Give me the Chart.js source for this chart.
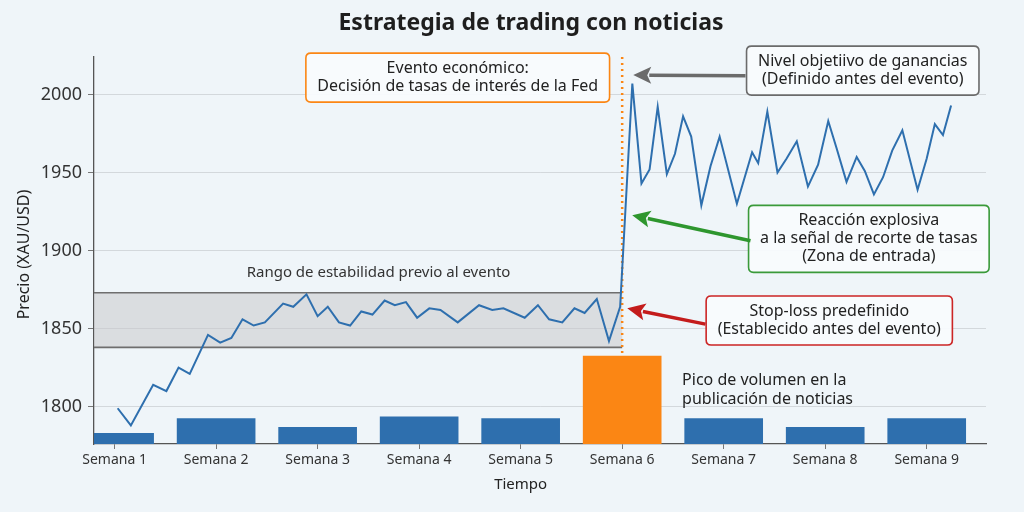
<!DOCTYPE html>
<html>
<head>
<meta charset="utf-8">
<script src="https://cdn.jsdelivr.net/npm/chart.js@4.4.1/dist/chart.umd.min.js"></script>
<style>
  html, body { margin: 0; padding: 0; background: #eff5f9; }
  #wrap { width: 1024px; height: 512px; }
</style>
</head>
<body>
<div id="wrap"><canvas id="c" width="1024" height="512"></canvas></div>
<script>
'use strict'

// categorias (semanas) y volumen
const weekLabels = ['Semana 1', 'Semana 2', 'Semana 3', 'Semana 4', 'Semana 5', 'Semana 6', 'Semana 7', 'Semana 8', 'Semana 9']
const weekPos = [1, 2, 3, 4, 5, 6, 7, 8, 9]
const volume = [12, 29, 19, 31, 29, 100, 29, 19, 29]

// precio XAU/USD (tiempo en semanas)
const priceTime = [
    1.03, 1.16, 1.38, 1.51, 1.63, 1.74, 1.92, 2.04, 2.15, 2.26,
    2.37, 2.48, 2.66, 2.76, 2.89, 3.00, 3.10, 3.21, 3.32, 3.43,
    3.54, 3.66, 3.76, 3.87, 3.98, 4.10, 4.21, 4.38, 4.59, 4.72,
    4.83, 5.04, 5.17, 5.28, 5.41, 5.53, 5.63, 5.75, 5.87, 5.98,
    6.10, 6.19, 6.27, 6.35, 6.44, 6.52, 6.60, 6.68, 6.78, 6.87,
    6.96, 7.13, 7.28, 7.34, 7.43, 7.53, 7.62, 7.72, 7.83, 7.93,
    8.03, 8.11, 8.21, 8.31, 8.39, 8.48, 8.57, 8.66, 8.76, 8.91,
    9.00, 9.08, 9.16, 9.24
]
const priceValue = [
    1799, 1788, 1814, 1810, 1825, 1821, 1846, 1841, 1844, 1856,
    1852, 1854, 1866, 1864, 1872, 1858, 1864, 1854, 1852, 1861,
    1859, 1868, 1865, 1867, 1857, 1863, 1862, 1854, 1865, 1862,
    1863, 1857, 1865, 1856, 1854, 1863, 1860, 1869, 1842, 1864,
    2007, 1943, 1952, 1992, 1949, 1962, 1986, 1973, 1929, 1954,
    1973, 1930, 1963, 1956, 1989, 1950, 1959, 1970, 1941, 1955,
    1983, 1966, 1944, 1960, 1951, 1936, 1947, 1964, 1977, 1939,
    1959, 1981, 1974, 1993
]

const yTicks = [1800, 1850, 1900, 1950, 2000]
const eventWeek = 6.0
const rangeLow = 1838
const rangeHigh = 1873

const FONT = '"Noto Sans", "Open Sans", sans-serif'
const BG = '#eff5f9'
const BLUE = '#2e6fae'
const ORANGE = '#fb8614'

// anotaciones en coordenadas de datos (semana, precio)
const notes = [
    { lines: ['Evento económico:', 'Decisión de tasas de interés de la Fed'], x: 4.38, y: 2010.8, color: ORANGE },
    { lines: ['Nivel objetiivo de ganancias', '(Definido antes del evento)'], x: 8.37, y: 2015.3, color: '#6b6b6b' },
    { lines: ['Reacción explosiva', 'a la señal de recorte de tasas', '(Zona de entrada)'], x: 8.43, y: 1907.5, color: '#3a9a3a' },
    { lines: ['Stop-loss predefinido', '(Establecido antes del evento)'], x: 8.04, y: 1855.2, color: '#cc2525' }
]
const arrows = [
    { from: [7.215, 2012.0], to: [6.109, 2012.4], color: '#6b6b6b' },
    { from: [7.264, 1906.3], to: [6.099, 1922.7], color: '#2e962e' },
    { from: [6.82, 1852.9], to: [6.05, 1863.0], color: '#c41c1c' }
]

function roundRect(ctx, x, y, w, h, r) {
    ctx.beginPath()
    ctx.moveTo(x + r, y)
    ctx.lineTo(x + w - r, y)
    ctx.quadraticCurveTo(x + w, y, x + w, y + r)
    ctx.lineTo(x + w, y + h - r)
    ctx.quadraticCurveTo(x + w, y + h, x + w - r, y + h)
    ctx.lineTo(x + r, y + h)
    ctx.quadraticCurveTo(x, y + h, x, y + h - r)
    ctx.lineTo(x, y + r)
    ctx.quadraticCurveTo(x, y, x + r, y)
    ctx.closePath()
}

function drawArrow(ctx, x1, y1, x2, y2, color) {
    const ang = Math.atan2(y2 - y1, x2 - x1)
    const headLen = 18
    const headW = 8.5
    const bx = x2 - headLen * Math.cos(ang)
    const by = y2 - headLen * Math.sin(ang)
    ctx.save()
    ctx.strokeStyle = color
    ctx.fillStyle = color
    ctx.lineWidth = 3.5
    ctx.beginPath()
    ctx.moveTo(x1, y1)
    ctx.lineTo(bx + 2 * Math.cos(ang), by + 2 * Math.sin(ang))
    ctx.stroke()
    ctx.beginPath()
    ctx.moveTo(x2, y2)
    ctx.lineTo(bx + headW * Math.sin(ang), by - headW * Math.cos(ang))
    ctx.lineTo(bx + 4 * Math.cos(ang), by + 4 * Math.sin(ang))
    ctx.lineTo(bx - headW * Math.sin(ang), by + headW * Math.cos(ang))
    ctx.closePath()
    ctx.fill()
    ctx.restore()
}

const backdrop = {
    id: 'backdrop',
    beforeDraw(chart) {
        const ctx = chart.ctx
        ctx.save()
        ctx.fillStyle = BG
        ctx.fillRect(0, 0, chart.width, chart.height)
        ctx.restore()
    },
    beforeDatasetsDraw(chart) {
        const { ctx, chartArea, scales } = chart
        const x = scales.x
        const y = scales.y
        ctx.save()
        // rango de estabilidad
        const xr = x.getPixelForValue(eventWeek)
        const yt = y.getPixelForValue(rangeHigh)
        const yb = y.getPixelForValue(rangeLow)
        ctx.fillStyle = 'rgba(200, 200, 204, 0.55)'
        ctx.fillRect(chartArea.left, yt, xr - chartArea.left, yb - yt)
        ctx.strokeStyle = '#6e6e6e'
        ctx.lineWidth = 1.6
        ctx.beginPath()
        ctx.moveTo(chartArea.left, yt)
        ctx.lineTo(xr, yt)
        ctx.moveTo(chartArea.left, yb)
        ctx.lineTo(xr, yb)
        ctx.stroke()

        ctx.fillStyle = '#333'
        ctx.font = '15px ' + FONT
        ctx.textAlign = 'center'
        ctx.textBaseline = 'middle'
        ctx.fillText('Rango de estabilidad previo al evento', x.getPixelForValue(3.6), y.getPixelForValue(1885.6))

        // linea del evento
        ctx.strokeStyle = ORANGE
        ctx.lineWidth = 2.5
        ctx.setLineDash([2, 4])
        ctx.beginPath()
        ctx.moveTo(xr, chartArea.top)
        ctx.lineTo(xr, chartArea.bottom)
        ctx.stroke()
        ctx.restore()
    },
    afterDatasetsDraw(chart) {
        const { ctx, chartArea, scales } = chart
        const x = scales.x
        const y = scales.y
        ctx.save()
        ctx.font = '16px ' + FONT
        ctx.textBaseline = 'middle'

        notes.forEach(n => {
            const cx = x.getPixelForValue(n.x)
            const cy = y.getPixelForValue(n.y)
            const tw = Math.max(...n.lines.map(l => ctx.measureText(l).width))
            const lh = 18
            const w = tw + 23
            const h = n.lines.length * lh + 13
            roundRect(ctx, cx - w / 2, cy - h / 2, w, h, 5)
            ctx.fillStyle = 'rgba(248, 251, 253, 0.95)'
            ctx.fill()
            ctx.strokeStyle = n.color
            ctx.lineWidth = 1.6
            ctx.stroke()
            ctx.fillStyle = '#222'
            ctx.textAlign = 'center'
            n.lines.forEach((l, i) => {
                ctx.fillText(l, cx, cy + (i - (n.lines.length - 1) / 2) * lh)
            })
        })

        arrows.forEach(a => {
            drawArrow(ctx,
                x.getPixelForValue(a.from[0]), y.getPixelForValue(a.from[1]),
                x.getPixelForValue(a.to[0]), y.getPixelForValue(a.to[1]), a.color)
        })

        // pico de volumen
        ctx.fillStyle = '#222'
        ctx.textAlign = 'left'
        ctx.fillText('Pico de volumen en la', x.getPixelForValue(6.59), y.getPixelForValue(1817))
        ctx.fillText('publicación de noticias', x.getPixelForValue(6.59), y.getPixelForValue(1804.6))

        // titulos
        ctx.textAlign = 'center'
        ctx.font = 'bold 23px ' + FONT
        ctx.fillStyle = '#1e1e1e'
        ctx.fillText('Estrategia de trading con noticias', (chartArea.left + chartArea.right) / 2 - 9, 23)
        ctx.font = '15px ' + FONT
        ctx.fillStyle = '#222'
        ctx.fillText('Tiempo', (x.getPixelForValue(1) + x.getPixelForValue(9)) / 2, 485)
        ctx.font = '16px ' + FONT
        ctx.translate(24, (chartArea.top + chartArea.bottom) / 2 + 4)
        ctx.rotate(-Math.PI / 2)
        ctx.fillText('Precio (XAU/USD)', 0, 0)
        ctx.restore()
    }
}

var chart = new Chart(document.getElementById('c'), {
    type: 'bar',
    data: {
        datasets: [
            {
                type: 'line',
                data: priceTime.map((t, i) => ({ x: t, y: priceValue[i] })),
                xAxisID: 'x',
                yAxisID: 'y',
                borderColor: BLUE,
                borderWidth: 2,
                pointRadius: 0,
                tension: 0,
                order: 0
            },
            {
                type: 'bar',
                data: weekPos.map((w, i) => ({ x: w, y: volume[i] })),
                xAxisID: 'x',
                yAxisID: 'yv',
                backgroundColor: weekPos.map(w => w === eventWeek ? ORANGE : BLUE),
                barThickness: 78,
                order: 2
            }
        ]
    },
    options: {
        responsive: false,
        animation: false,
        devicePixelRatio: 1,
        layout: { padding: { top: 57, right: 38, left: 0, bottom: 0 } },
        plugins: {
            legend: { display: false },
            tooltip: { enabled: false },
            title: { display: false }
        },
        scales: {
            x: {
                type: 'linear',
                offset: false,
                min: 0.797,
                max: 9.584,
                afterBuildTicks: s => { s.ticks = weekPos.map(v => ({ value: v })) },
                afterFit: s => { s.height = 68 },
                ticks: {
                    autoSkip: false,
                    maxRotation: 0,
                    padding: 3,
                    color: '#333',
                    font: { family: FONT, size: 14 },
                    callback: v => weekLabels[weekPos.indexOf(v)]
                },
                grid: { drawOnChartArea: false, offset: false, tickLength: 5, tickColor: '#777' },
                border: { color: '#555', width: 1.3 }
            },
            y: {
                min: 1776.1,
                max: 2024,
                afterBuildTicks: s => { s.ticks = yTicks.map(v => ({ value: v })) },
                afterFit: s => { s.width = 94 },
                ticks: {
                    padding: 6,
                    color: '#333',
                    font: { family: FONT, size: 18 },
                    callback: v => String(v)
                },
                grid: { color: '#d3d8dc', lineWidth: 1, tickLength: 6, tickColor: '#777' },
                border: { color: '#555', width: 1.3 }
            },
            yv: {
                display: false,
                min: 0,
                max: 440
            }
        }
    },
    plugins: [backdrop]
})
</script>
</body>
</html>
